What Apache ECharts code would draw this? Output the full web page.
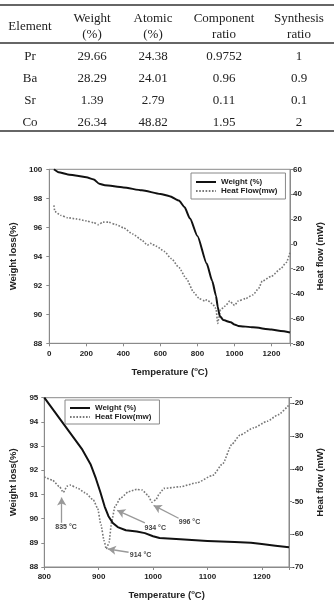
<!DOCTYPE html>
<html><head><meta charset="utf-8">
<script src="https://cdn.jsdelivr.net/npm/echarts@6/dist/echarts.min.js"></script>
<style>
html,body{margin:0;padding:0;background:#fff;width:334px;height:601px;overflow:hidden;}
#chart{position:absolute;left:0;top:0;width:334px;height:601px;}
#table{position:absolute;left:0;top:0;width:334px;height:140px;z-index:2;font-family:"Liberation Serif",serif;font-size:13px;color:#222;}
.hl{position:absolute;left:0;width:334px;height:1.5px;background:#666;}
.cell{position:absolute;transform:translate(-50%,-50%);white-space:nowrap;line-height:1;}
</style></head>
<body>
<div id="chart"></div>
<div id="table"></div>
<script>
// ---------- table data ----------
const tableHeader = [['Element'], ['Weight','(%)'], ['Atomic','(%)'], ['Component','ratio'], ['Synthesis','ratio']];
const elements = ['Pr','Ba','Sr','Co'];
const weightPct = ['29.66','28.29','1.39','26.34'];
const atomicPct = ['24.38','24.01','2.79','48.82'];
const componentRatio = ['0.9752','0.96','0.11','1.95'];
const synthesisRatio = ['1','0.9','0.1','2'];

// ---------- chart 1 (full range) ----------
const temp1W   = [25,50,100,150,200,240,270,300,400,500,600,650,700,730,760,800,850,880,900,910,920,940,980,1000,1020,1100,1200,1250,1300];
const weight1  = [100,99.8,99.65,99.55,99.45,99.3,99.0,98.9,98.75,98.55,98.3,98.15,97.85,97.4,96.6,95.4,93.5,92.3,91.3,90.5,89.9,89.6,89.45,89.3,89.2,89.1,88.95,88.85,88.75];
const temp1H   = [25,30,60,100,150,200,240,265,290,320,360,400,450,500,530,545,580,620,660,700,740,780,810,840,850,880,900,910,915,925,950,975,990,1000,1020,1060,1100,1130,1150,1200,1250,1280,1300];
const heat1    = [31,26,23,21,20,18.5,17,15.5,17.5,17.5,15.5,13,8,3,-1,0.5,-2,-6,-12,-19,-28,-39,-44,-46,-45,-48,-52,-64,-60,-53,-50,-46,-48,-49.5,-46,-44,-41,-36,-30,-26,-20,-15,-7];
const xTicks1  = [0,200,400,600,800,1000,1200];
const yTicksW1 = [88,90,92,94,96,98,100];
const yTicksH1 = [-80,-60,-40,-20,0,20,40,60];

// ---------- chart 2 (zoomed 800-1250) ----------
const temp2W   = [800,870,885,895,903,911,918,926,935,950,970,985,1000,1012,1050,1100,1150,1180,1200,1225,1250];
const weight2  = [95.0,92.85,92.25,91.65,91.1,90.5,90.1,89.82,89.65,89.52,89.47,89.4,89.27,89.2,89.15,89.08,89.03,89.0,88.95,88.88,88.82];
const temp2H   = [800,815,828,835,842,848,860,875,890,898,904,910,914,919,924,930,940,955,970,980,990,998,1005,1012,1020,1050,1080,1110,1128,1145,1160,1185,1210,1230,1250];
const heat2    = [-42.5,-43.5,-45.5,-47.2,-45.3,-45,-45.8,-47.3,-49.5,-52,-57,-62,-64.5,-62.5,-56,-51.5,-49,-47,-46.3,-46.5,-48,-50.2,-49.5,-47.5,-46,-45.5,-44.3,-42,-38.5,-32.5,-29.7,-27.5,-25.5,-23.5,-20.5];
const xTicks2  = [800,900,1000,1100,1200];
const yTicksW2 = [88,89,90,91,92,93,94,95];
const yTicksH2 = [-70,-60,-50,-40,-30,-20];
const heat2Max = -18.3;

// peak annotations (data coordinates)
const peakNames   = ['835 °C','914 °C','934 °C','996 °C'];
const peakLabelT  = [840,977,1004,1067];
const peakLabelH  = [-57.9,-66.5,-58,-56.4];
const arrowTailT  = [832,955,985,1047];
const arrowTailH  = [-56.5,-65.5,-56.5,-55.1];
const arrowHeadT  = [832,917,934,1001];
const arrowHeadH  = [-48.8,-64.5,-52.7,-51.2];

// ---------- build table ----------
const tbl = document.getElementById('table');
[5,43,131].forEach(y=>{const d=document.createElement('div');d.className='hl';d.style.top=(y-0.75)+'px';tbl.appendChild(d);});
const colX = [30,92,153,224,299];
function cell(txt,x,y){const d=document.createElement('div');d.className='cell';d.textContent=txt;d.style.left=x+'px';d.style.top=y+'px';tbl.appendChild(d);}
tableHeader.forEach((h,i)=>{ if(h.length===1) cell(h[0],colX[i],25); else {cell(h[0],colX[i],17);cell(h[1],colX[i],33);} });
const rowY=[55,77,99,121];
const cols=[elements,weightPct,atomicPct,componentRatio,synthesisRatio];
cols.forEach((c,i)=>c.forEach((v,j)=>cell(v,colX[i],rowY[j])));

// ---------- chart ----------
const zip=(a,b)=>a.map((v,i)=>[v,b[i]]);
const axisColor='#8a8a8a';
const lab={fontSize:8,fontWeight:'bold',color:'#222',fontFamily:'Liberation Sans'};
const nameStyle={fontSize:9.5,fontWeight:'bold',color:'#222',fontFamily:'Liberation Sans'};
function only(ticks){return v=>ticks.includes(Math.round(v*1000)/1000)?String(v):'';}
function baseAxis(extra){return Object.assign({
  axisLine:{show:true,onZero:false,lineStyle:{color:axisColor,width:1}},
  axisTick:{show:true,length:3,lineStyle:{color:axisColor}},
  splitLine:{show:false},
  nameLocation:'middle',nameTextStyle:nameStyle
},extra);}
const tempName='{a|Temperature (}{s|o}{a|C)}';
const tempRich={a:nameStyle,s:{fontSize:6,fontWeight:'bold',color:'#222',verticalAlign:'top',padding:[0,0,6,0]}};

const chart=echarts.init(document.getElementById('chart'),null,{renderer:'canvas'});
const legendCommon={orient:'vertical',itemWidth:20,itemHeight:10,itemGap:1,borderColor:'#888',borderWidth:1,
  itemStyle:{opacity:0},
  textStyle:{fontSize:8,fontWeight:'bold',color:'#222',fontFamily:'Liberation Sans'},data:['Weight (%)','Heat Flow(mw)'],selectedMode:false};
chart.setOption({
  animation:false,
  textStyle:{fontFamily:'Liberation Sans'},
  grid:[
    {left:49.3,top:169.3,width:240.7,height:174,show:true,borderColor:axisColor,borderWidth:1},
    {left:44.3,top:397.7,width:244.7,height:169.3,show:true,borderColor:axisColor,borderWidth:1}
  ],
  legend:[
    Object.assign({left:191,top:173,padding:[5,8,4,4]},legendCommon),
    Object.assign({left:65,top:400,padding:[4,8,3,4],itemWidth:21},legendCommon)
  ],
  xAxis:[
    baseAxis({type:'value',gridIndex:0,min:xTicks1[0],max:1300,interval:200,
      axisLabel:Object.assign({margin:6,formatter:only(xTicks1)},lab),
      name:tempName,nameGap:23,nameTextStyle:Object.assign({rich:tempRich},nameStyle)}),
    baseAxis({type:'value',gridIndex:1,min:xTicks2[0],max:1250,interval:100,
      axisLabel:Object.assign({margin:6,formatter:only(xTicks2)},lab),
      name:tempName,nameGap:22,nameTextStyle:Object.assign({rich:tempRich},nameStyle)})
  ],
  yAxis:[
    baseAxis({type:'value',gridIndex:0,position:'left',min:yTicksW1[0],max:yTicksW1[yTicksW1.length-1],interval:2,
      axisLabel:Object.assign({margin:7,formatter:only(yTicksW1)},lab),name:'Weight loss(%)',nameGap:26}),
    baseAxis({type:'value',gridIndex:0,position:'right',min:yTicksH1[0],max:yTicksH1[yTicksH1.length-1],interval:20,
      axisLabel:Object.assign({margin:3,formatter:only(yTicksH1)},lab),name:'Heat flow (mW)',nameGap:25}),
    baseAxis({type:'value',gridIndex:1,position:'left',min:yTicksW2[0],max:yTicksW2[yTicksW2.length-1],interval:1,
      axisLabel:Object.assign({margin:6,formatter:only(yTicksW2)},lab),name:'Weight loss(%)',nameGap:21}),
    baseAxis({type:'value',gridIndex:1,position:'right',min:yTicksH2[0],max:heat2Max,interval:10,
      axisLabel:Object.assign({margin:3,formatter:only(yTicksH2)},lab),name:'Heat flow (mW)',nameGap:26})
  ],
  series:[
    {name:'Weight (%)',type:'line',xAxisIndex:0,yAxisIndex:0,data:zip(temp1W,weight1),showSymbol:false,symbol:'none',
      smooth:0.2,smoothMonotone:'x',lineStyle:{color:'#111',width:2},itemStyle:{color:'#111'},z:3},
    {name:'Heat Flow(mw)',type:'line',xAxisIndex:0,yAxisIndex:1,data:zip(temp1H,heat1),showSymbol:false,symbol:'none',
      smooth:0.2,smoothMonotone:'x',lineStyle:{color:'#777',width:1.6,type:[1.6,1.6]},itemStyle:{color:'#777'},z:2},
    {name:'Weight (%)',type:'line',xAxisIndex:1,yAxisIndex:2,data:zip(temp2W,weight2),showSymbol:false,symbol:'none',
      smooth:false,lineStyle:{color:'#111',width:2,join:'round'},itemStyle:{color:'#111'},z:3},
    {name:'Heat Flow(mw)',type:'line',xAxisIndex:1,yAxisIndex:3,data:zip(temp2H,heat2),showSymbol:false,symbol:'none',
      smooth:0.2,smoothMonotone:'x',lineStyle:{color:'#777',width:1.6,type:[1.6,1.6]},itemStyle:{color:'#777'},z:2,
      markLine:{silent:true,symbol:['none','arrow'],symbolSize:[7,8],
        lineStyle:{color:'#999',width:1.3,type:'solid'},label:{show:false},
        data:peakNames.map((n,i)=>[{coord:[arrowTailT[i],arrowTailH[i]]},{coord:[arrowHeadT[i],arrowHeadH[i]]}])},
      markPoint:{silent:true,symbol:'circle',symbolSize:1,itemStyle:{color:'rgba(0,0,0,0)'},
        label:{show:true,position:'inside',formatter:p=>p.name,fontSize:7,fontWeight:'bold',color:'#444',fontFamily:'Liberation Sans'},
        data:peakNames.map((n,i)=>({name:n,coord:[peakLabelT[i],peakLabelH[i]]}))}
    }
  ]
});
</script>
</body></html>
